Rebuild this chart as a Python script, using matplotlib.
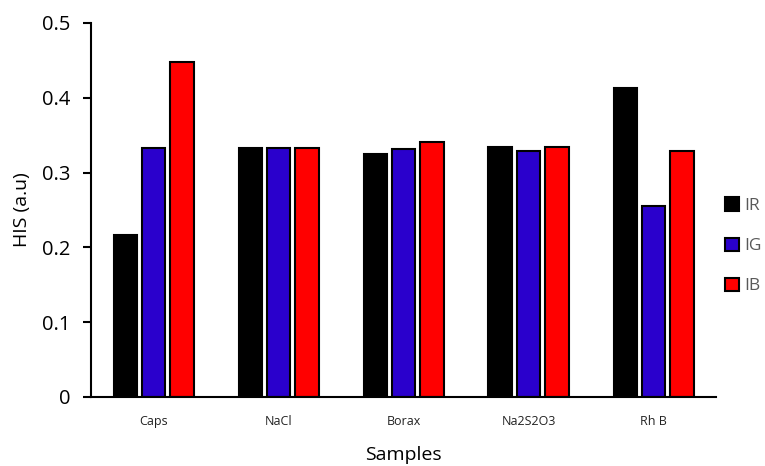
import matplotlib
matplotlib.use("Agg")
import matplotlib.pyplot as plt
import numpy as np

categories = ["Caps", "NaCl", "Borax", "Na2S2O3", "Rh B"]
IR = [0.217, 0.333, 0.325, 0.334, 0.413]
IG = [0.333, 0.333, 0.332, 0.329, 0.255]
IB = [0.448, 0.333, 0.341, 0.334, 0.329]
series_names = ["IR", "IG", "IB"]
colors = ["#000000", "#2A00CC", "#FF0000"]

plt.rcParams['font.family'] = ['Open Sans', 'DejaVu Sans']

fig = plt.figure(figsize=(7.65, 4.66), dpi=100)
ax = fig.add_axes([91/765, 1 - 397/466, (716-91)/765, (397-23)/466])

x = np.arange(len(categories))
w = 0.19
gap = 0.035
for i, (vals, name, c) in enumerate(zip([IR, IG, IB], series_names, colors)):
    ax.bar(x + (i - 1) * (w + gap), vals, width=w, color=c, edgecolor="black",
           linewidth=1.5, label=name)

ax.set_xlim(-0.5, len(categories) - 0.5)
ax.set_ylim(0, 0.5)
ax.set_yticks([0, 0.1, 0.2, 0.3, 0.4, 0.5])
ax.set_yticklabels(["0", "0.1", "0.2", "0.3", "0.4", "0.5"])
ax.set_xticks(x)
ax.set_xticklabels(categories, fontsize=9, color="#222222")
ax.tick_params(axis="x", length=0, pad=13)
ax.tick_params(axis="y", length=6, width=1.5, labelsize=14.5, direction="out", pad=9)
for s in ["top", "right"]:
    ax.spines[s].set_visible(False)
for s in ["left", "bottom"]:
    ax.spines[s].set_linewidth(1.5)
ax.set_ylabel("HIS (a.u)", fontsize=14, labelpad=8)
ax.set_xlabel("Samples", fontsize=14, labelpad=13)

leg = fig.legend(loc="upper left", bbox_to_anchor=(722/765, 1 - 194/466), frameon=False,
                 fontsize=12.5, handlelength=0.8, handleheight=0.8,
                 labelspacing=1.35, handletextpad=0.3, borderaxespad=0.0,
                 borderpad=0.2)
for t in leg.get_texts():
    t.set_color("#595959")

fig.savefig("out.png", dpi=100)
